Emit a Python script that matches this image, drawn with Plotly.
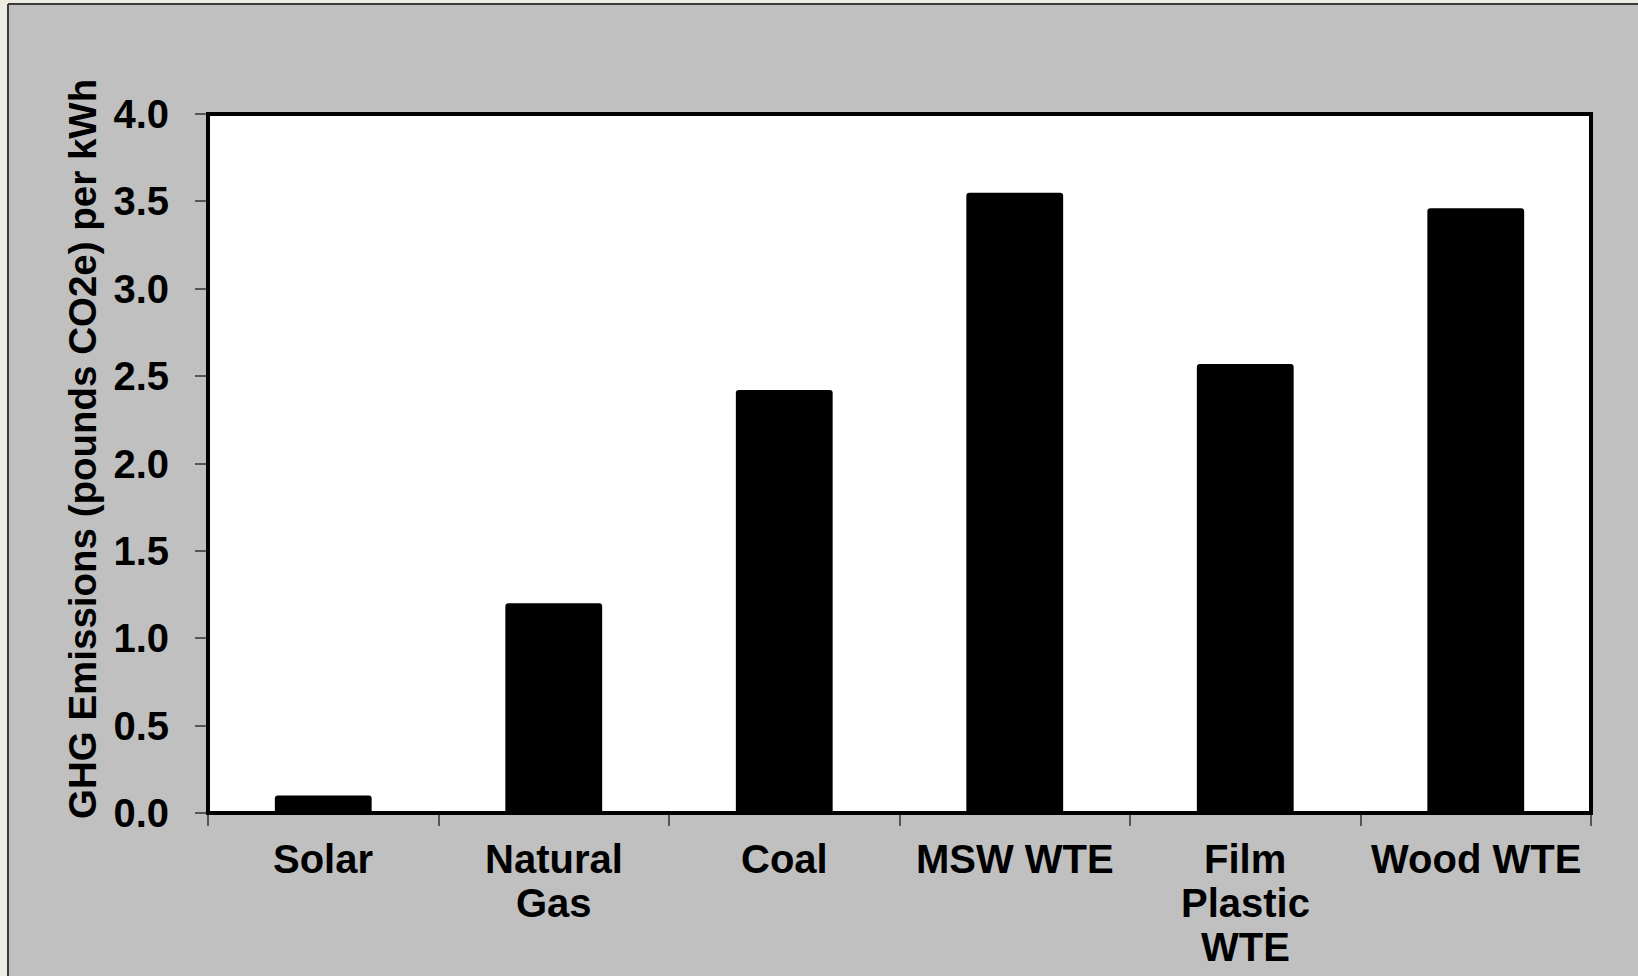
import plotly.graph_objects as go

# Life-cycle greenhouse-gas emissions by electricity source
categories = ["Solar", "Natural<br>Gas", "Coal", "MSW WTE", "Film<br>Plastic<br>WTE", "Wood WTE"]
emissions = [0.10, 1.20, 2.42, 3.55, 2.57, 3.46]
y_ticks = [0.0, 0.5, 1.0, 1.5, 2.0, 2.5, 3.0, 3.5, 4.0]
y_title = "GHG Emissions (pounds CO2e) per kWh"

W, H = 1638, 976
L, R, T, B = 208, 47, 114, 163
PW, PH = W - L - R, H - T - B

FONT = "Liberation Sans, Arial, sans-serif"
PANEL = "#C0C0C0"
FRAME = "#EEECE1"


def px_x(p):
    return (p - L) / PW


def px_y(p):
    return (H - B - p) / PH


fig = go.Figure(
    go.Bar(
        x=categories,
        y=emissions,
        width=0.42,
        marker=dict(color="black", line=dict(width=0), cornerradius=3),
        hoverinfo="skip",
    )
)

shapes = [
    # light outer frame along the left and top edges
    dict(type="rect", xref="paper", yref="paper", x0=px_x(-5), x1=px_x(8), y0=px_y(H + 5), y1=px_y(-5),
         fillcolor=FRAME, line=dict(width=0), layer="below"),
    dict(type="rect", xref="paper", yref="paper", x0=px_x(-5), x1=px_x(W + 5), y0=px_y(4), y1=px_y(-5),
         fillcolor=FRAME, line=dict(width=0), layer="below"),
    dict(type="line", xref="paper", yref="paper", x0=px_x(8), x1=px_x(8), y0=px_y(4), y1=px_y(H + 5),
         line=dict(color="#3a3a3a", width=2), layer="below"),
    dict(type="line", xref="paper", yref="paper", x0=px_x(8), x1=px_x(W + 5), y0=px_y(4), y1=px_y(4),
         line=dict(color="#3a3a3a", width=2), layer="below"),
    # plot area border
    dict(type="rect", xref="paper", yref="paper", x0=0, x1=1, y0=0, y1=1,
         line=dict(color="black", width=4), fillcolor="rgba(0,0,0,0)", layer="above"),
]

label_font = dict(family=FONT, size=40, color="black", weight="bold")

# category labels, one text line per annotation for tight line spacing
annotations = []
for i, cat in enumerate(categories):
    for j, line in enumerate(cat.split("<br>")):
        annotations.append(dict(
            x=i, xref="x", y=0, yref="paper", yanchor="middle", xanchor="center",
            yshift=-(46 + 44 * j), text=line, showarrow=False, font=label_font,
        ))

# vertical axis title
annotations.append(dict(
    x=px_x(82), xref="paper", y=px_y(449), yref="paper",
    xanchor="center", yanchor="middle", textangle=-90,
    text=y_title, showarrow=False,
    font=dict(family=FONT, size=38.5, color="black", weight="bold"),
))

fig.update_layout(
    width=W, height=H,
    margin=dict(l=L, r=R, t=T, b=B, pad=0),
    paper_bgcolor=PANEL,
    plot_bgcolor="white",
    showlegend=False,
    shapes=shapes,
    annotations=annotations,
    font=label_font,
    xaxis=dict(
        type="category",
        range=[-0.5, len(categories) - 0.5],
        showticklabels=False,
        ticks="outside", tickson="boundaries", ticklen=12, tickwidth=2, tickcolor="#555555",
        showgrid=False, zeroline=False, showline=False, fixedrange=True,
    ),
    yaxis=dict(
        range=[0, 4], tickvals=y_ticks, tickformat=".1f",
        ticks="outside", ticklen=12, tickwidth=2, tickcolor="#555555",
        ticklabelstandoff=18,
        tickfont=label_font,
        showgrid=False, zeroline=False, showline=False, fixedrange=True,
    ),
)

fig.write_html("out.html", config={"displayModeBar": False})
